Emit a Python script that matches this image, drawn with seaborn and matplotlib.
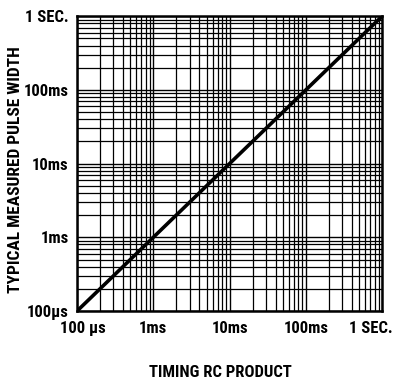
import numpy as np
import pandas as pd
import seaborn as sns
import matplotlib
matplotlib.use('Agg')
from matplotlib import pyplot as plt
from matplotlib.ticker import LogLocator, NullFormatter
from matplotlib.transforms import ScaledTranslation

# datos: ancho de pulso medido vs producto RC
rc_product = [1e-4, 1e-3, 1e-2, 1e-1, 1.0]
pulse_width = [1e-4, 1e-3, 1e-2, 1e-1, 1.0]
tick_values = [1e-4, 1e-3, 1e-2, 1e-1, 1.0]
x_tick_labels = ['100 \u03bcs', '1ms', '10ms', '100ms', '1 SEC.']
y_tick_labels = ['100\u03bcs', '1ms', '10ms', '100ms', '1 SEC.']

df = pd.DataFrame({'rc': rc_product, 'pw': pulse_width})

sns.set_style("white")
plt.rcParams['font.family'] = ['Roboto Condensed', 'DejaVu Sans']
plt.rcParams['font.weight'] = 'bold'
plt.rcParams['text.color'] = 'black'
plt.rcParams['xtick.color'] = 'black'
plt.rcParams['ytick.color'] = 'black'
plt.rcParams['axes.labelcolor'] = 'black'

fig = plt.figure(figsize=(4.01, 3.85), dpi=100)
ax = fig.add_axes([0.192, 0.192, 0.761, 0.766])

ax.set_xscale('log')
ax.set_yscale('log')
ax.set_xlim(1e-4, 1)
ax.set_ylim(1e-4, 1)

sns.lineplot(data=df, x='rc', y='pw', color='black', linewidth=2.6, ax=ax)

# rejilla mayor y menor
for axis in [ax.xaxis, ax.yaxis]:
    axis.set_minor_locator(LogLocator(base=10, subs=np.arange(2, 10)))
    axis.set_minor_formatter(NullFormatter())
ax.grid(which='major', color='black', linewidth=1.0)
ax.grid(which='minor', color='black', linewidth=0.9)
ax.set_axisbelow(True)

ax.set_xticks(tick_values)
ax.set_xticklabels(x_tick_labels, fontsize=12, fontweight='bold')
ax.set_yticks(tick_values)
ax.set_yticklabels(y_tick_labels, fontsize=12, fontweight='bold')
ax.tick_params(axis='x', which='both', length=0, pad=7)
ax.tick_params(axis='y', which='both', length=0, pad=6)

# primera y última etiqueta del eje x desplazadas como en el original
xlabels = ax.get_xticklabels()
xlabels[0].set_transform(xlabels[0].get_transform() + ScaledTranslation(4 / 72, 0, fig.dpi_scale_trans))
xlabels[-1].set_transform(xlabels[-1].get_transform() + ScaledTranslation(-8 / 72, 0, fig.dpi_scale_trans))

for s in ax.spines.values():
    s.set_visible(True)
    s.set_color('black')
    s.set_linewidth(1.8)

ax.set_xlabel('TIMING RC PRODUCT', fontsize=12, fontweight='bold')
ax.set_ylabel('TYPICAL MEASURED PULSE WIDTH', fontsize=12.5, fontweight='bold')
ax.xaxis.set_label_coords(0.47, -0.207)
ax.xaxis.label.set_va('center')
ax.yaxis.set_label_coords(-0.203, 0.48)
ax.yaxis.label.set_va('center')

plt.savefig('out.png', dpi=100)
